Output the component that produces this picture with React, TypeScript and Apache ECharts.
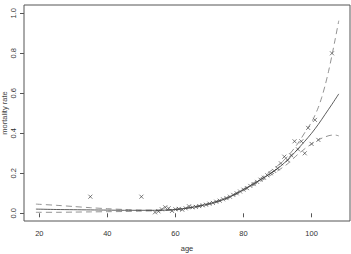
import React, { useEffect, useRef } from "react";
import * as echarts from "echarts";

const xTicks = [20, 40, 60, 80, 100];
const yTicks = [0, 0.2, 0.4, 0.6, 0.8, 1.0];
const xTitle = "age";
const yTitle = "mortality rate";

const pointAges = [35, 50, 54, 55, 56, 57, 58, 59, 60, 61, 62, 63, 64, 65, 66, 67, 68, 69, 70, 71, 72, 73, 74, 75, 76, 77, 78, 79, 80, 81, 82, 83, 84, 85, 86, 87, 88, 89, 90, 91, 92, 93, 94, 95, 96, 97, 98, 99, 100, 101, 102, 106];
const pointRates = [0.083, 0.083, 0.005, 0.01, 0.02, 0.03, 0.025, 0.012, 0.02, 0.022, 0.018, 0.025, 0.035, 0.03, 0.032, 0.036, 0.04, 0.043, 0.048, 0.052, 0.058, 0.063, 0.07, 0.076, 0.083, 0.092, 0.1, 0.109, 0.118, 0.126, 0.137, 0.146, 0.157, 0.168, 0.178, 0.19, 0.2, 0.212, 0.225, 0.25, 0.283, 0.265, 0.29, 0.36, 0.32, 0.36, 0.3, 0.427, 0.347, 0.467, 0.367, 0.8];

const curveAges = [19, 25, 30, 35, 40, 45, 50, 55, 60, 65, 70, 75, 80, 85, 88, 90, 92, 94, 96, 98, 100, 102, 104, 106, 108];
const fitRates = [0.021, 0.019, 0.018, 0.017, 0.016, 0.015, 0.015, 0.015, 0.019, 0.03, 0.048, 0.075, 0.118, 0.168, 0.2, 0.223, 0.252, 0.285, 0.322, 0.36, 0.4, 0.445, 0.495, 0.545, 0.597];

const upperAges = [19, 25, 30, 35, 40, 45, 50, 55, 60, 65, 70, 75, 80, 85, 90, 93, 96, 99, 100, 101, 102, 103, 104, 105, 106, 107, 108];
const upperRates = [0.046, 0.04, 0.034, 0.028, 0.023, 0.019, 0.016, 0.016, 0.021, 0.032, 0.05, 0.078, 0.122, 0.175, 0.238, 0.285, 0.35, 0.43, 0.455, 0.49, 0.53, 0.58, 0.64, 0.71, 0.79, 0.875, 0.963];

const lowerAges = [19, 25, 30, 35, 40, 45, 50, 55, 60, 65, 70, 75, 80, 85, 90, 93, 96, 99, 102, 104, 106, 107, 108];
const lowerRates = [0.005, 0.005, 0.006, 0.007, 0.008, 0.009, 0.011, 0.013, 0.017, 0.028, 0.045, 0.071, 0.113, 0.16, 0.212, 0.248, 0.295, 0.335, 0.367, 0.382, 0.391, 0.391, 0.387];

const zip = (a: number[], b: number[]) => a.map((v, i) => [v, b[i]]);

export default function App() {
  const ref = useRef<HTMLDivElement>(null);
  useEffect(() => {
    if (!ref.current) return;
    const chart = echarts.init(ref.current, null, { renderer: "svg" });
    const font = "Liberation Sans, Arial, sans-serif";
    const lineCommon = {
      type: "line",
      showSymbol: false,
      symbol: "none",
      smooth: 0.3,
      silent: true,
    };
    chart.setOption({
      animation: false,
      backgroundColor: "#fff",
      grid: {
        left: 24,
        right: 1,
        top: 5,
        bottom: 33,
        show: true,
        borderColor: "#555",
        borderWidth: 1,
        backgroundColor: "transparent",
        outerBoundsMode: "none",
        containLabel: false,
      },
      graphic: [
        {
          type: "text",
          x: 187,
          y: 248,
          silent: true,
          style: {
            text: xTitle,
            fontFamily: font,
            fontSize: 7.5,
            fill: "#333",
            align: "center",
            verticalAlign: "middle",
          },
        },
        {
          type: "text",
          x: 4,
          y: 113,
          rotation: Math.PI / 2,
          silent: true,
          style: {
            text: yTitle,
            fontFamily: font,
            fontSize: 7.5,
            fill: "#444",
            align: "center",
            verticalAlign: "middle",
          },
        },
      ],
      xAxis: {
        type: "value",
        min: 15.5,
        max: 111.3,
        axisLine: { show: false },
        splitLine: { show: false },
        axisTick: { show: true, length: 4, customValues: xTicks, lineStyle: { color: "#555", width: 1 } },
        axisLabel: { customValues: xTicks, margin: 8, fontFamily: font, fontSize: 7.5, color: "#333" },
      },
      yAxis: {
        type: "value",
        min: -0.0385,
        max: 1.0415,
        axisLine: { show: false },
        splitLine: { show: false },
        axisTick: { show: true, length: 4, customValues: yTicks, lineStyle: { color: "#555", width: 1 } },
        axisLabel: {
          customValues: yTicks,
          rotate: 90,
          margin: 7,
          fontFamily: font,
          fontSize: 7.5,
          color: "#333",
          formatter: (v: number) => v.toFixed(1),
        },
      },
      series: [
        {
          ...lineCommon,
          data: zip(upperAges, upperRates),
          lineStyle: { color: "#777", width: 0.8, type: [6, 4] },
        },
        {
          ...lineCommon,
          data: zip(lowerAges, lowerRates),
          lineStyle: { color: "#777", width: 0.8, type: [6, 4] },
        },
        {
          ...lineCommon,
          data: zip(curveAges, fitRates),
          lineStyle: { color: "#333", width: 0.8, type: "solid" },
        },
        {
          type: "scatter",
          silent: true,
          data: zip(pointAges, pointRates),
          symbol: "path://M0,0L10,10M10,0L0,10",
          symbolSize: 4,
          itemStyle: { color: "none", borderColor: "#333", borderWidth: 0.8 },
        },
      ],
    });
    return () => chart.dispose();
  }, []);
  return (
    <div
      ref={ref}
      style={{ position: "fixed", left: 0, top: 0, width: 351, height: 254, background: "#fff" }}
    />
  );
}
